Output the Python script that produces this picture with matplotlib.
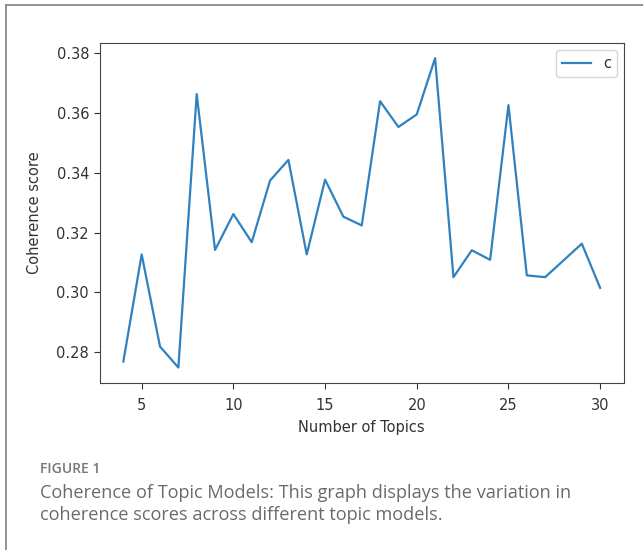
import matplotlib
matplotlib.use("Agg")
import matplotlib.pyplot as plt
from matplotlib.lines import Line2D

plt.rcParams["font.family"] = ["DejaVu Sans"]

num_topics = [4, 5, 6, 7, 8, 9, 10, 11, 12, 13, 14, 15, 16, 17, 18, 19, 20,
              21, 22, 23, 24, 25, 26, 27, 29, 30]
coherence = [0.2769, 0.3127, 0.2819, 0.2749, 0.3663, 0.3142, 0.3262, 0.3168,
             0.3374, 0.3443, 0.3127, 0.3377, 0.3253, 0.3224, 0.3639, 0.3553,
             0.3595, 0.3783, 0.3051, 0.3141, 0.3109, 0.3626, 0.3057, 0.3051,
             0.3163, 0.3015]
series_label = "c"
x_label = "Number of Topics"
y_label = "Coherence score"
fig_label = "FIGURE 1"
caption_lines = ["Coherence of Topic Models: This graph displays the variation in",
                 "coherence scores across different topic models."]
y_ticks = [0.28, 0.30, 0.32, 0.34, 0.36, 0.38]
x_ticks = [5, 10, 15, 20, 25, 30]

W, H = 643, 550
fig = plt.figure(figsize=(W / 100, H / 100), dpi=100)

ax = fig.add_axes([99.5 / W, 1 - 383 / H, (624 - 99.5) / W, (383 - 42.7) / H])
ax.plot(num_topics, coherence, color="#2f82bf", lw=1.6, label=series_label)
ax.set_xticks(x_ticks)
ax.set_yticks(y_ticks)
ax.set_yticklabels([f"{v:.2f}" for v in y_ticks])
ax.tick_params(labelsize=10.5, colors="#333333", length=4)
ax.tick_params(axis="x", pad=6.5)
for s in ax.spines.values():
    s.set_color("#444444")
ax.set_xlabel(x_label, fontsize=10.5, color="#333333", labelpad=5)
ax.set_ylabel(y_label, fontsize=10.5, color="#333333", labelpad=10)
leg = ax.legend(loc="upper right", fontsize=10.5)
for t in leg.get_texts():
    t.set_color("#333333")

# outer frame
fig.add_artist(Line2D([6 / W, 6 / W], [0, 1 - 5 / H], transform=fig.transFigure,
                      color="#8a8a8a", lw=1.3))
fig.add_artist(Line2D([6 / W, 1], [1 - 5 / H, 1 - 5 / H], transform=fig.transFigure,
                      color="#8a8a8a", lw=1.3))

fig.text(40 / W, 1 - 473.3 / H, fig_label, fontsize=10, color="#767676",
         family="Open Sans", weight="semibold", va="baseline")
fig.text(40 / W, 1 - 497.7 / H, caption_lines[0], fontsize=13.1, color="#6a6a6a",
         family="Open Sans", va="baseline")
fig.text(40 / W, 1 - 520.5 / H, caption_lines[1], fontsize=13.1, color="#6a6a6a",
         family="Open Sans", va="baseline")

fig.savefig("out.png", dpi=100)
